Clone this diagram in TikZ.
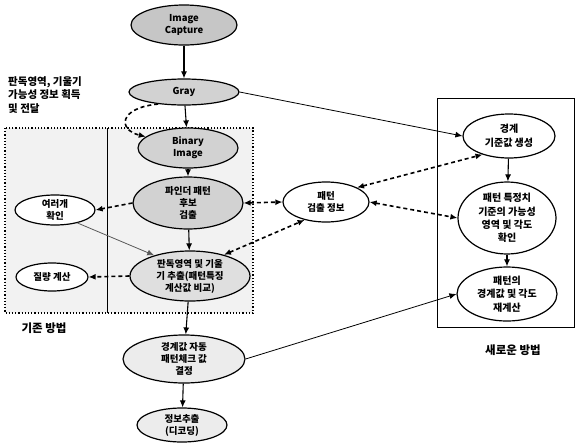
\documentclass[tikz,border=0pt]{standalone}
\usepackage{fontspec}
\newfontfamily\kr{Noto Sans CJK KR}
\usetikzlibrary{arrows.meta,shapes.geometric}
\begin{document}
\begin{tikzpicture}[x=1pt,y=-1pt,
  el/.style={ellipse,draw,line width=1.2pt,inner sep=0pt,align=center,
    font=\kr\bfseries\fontsize{9.5}{12}\selectfont},
  rel/.style={ellipse,draw,line width=1.2pt,inner sep=0pt,align=center,fill=white,
    font=\kr\bfseries\fontsize{10}{13.5}\selectfont},
  lab/.style={align=left,font=\kr\bfseries\fontsize{10.5}{13.5}\selectfont,inner sep=0pt},
  sol/.style={line width=1.1pt,-{Latex[length=7pt,width=6pt]}},
  thin/.style={line width=0.8pt,-{Latex[length=7pt,width=6pt]}},
  dsh/.style={line width=1.6pt,dash pattern=on 4pt off 3pt,{Latex[length=7pt,width=6pt]}-{Latex[length=7pt,width=6pt]}},
  dsh1/.style={line width=1.6pt,dash pattern=on 4pt off 3pt,-{Latex[length=7pt,width=6pt]}}
]
\useasboundingbox (0,0) rectangle (579,445);
% boxes
\draw[line width=1.2pt,dotted,fill=gray!10] (5,128) rectangle (253,313);
\draw[line width=0.6pt] (107,128) -- (107,313);
\draw[line width=1pt] (437,98) rectangle (574,327);
% left column ellipses
\node[el,fill=gray!45,minimum width=106pt,minimum height=40pt] (cap) at (184,25) {Image\\Capture};
\node[el,fill=gray!35,minimum width=110pt,minimum height=26pt] (gray) at (184,92) {Gray};
\node[el,fill=gray!35,minimum width=100pt,minimum height=40pt] (bin) at (188,148) {Binary\\Image};
\node[el,fill=gray!35,minimum width=110pt,minimum height=52pt] (pat) at (188,203) {파인더 패턴\\후보\\검출};
\node[el,fill=gray!25,minimum width=120pt,minimum height=50pt] (big) at (190,276) {판독영역 및 기울\\기 추출(패턴특징\\계산값 비교)};
\node[el,fill=white,minimum width=80pt,minimum height=30pt] (l1) at (55,210) {여러개\\확인};
\node[el,fill=white,minimum width=72pt,minimum height=28pt] (l2) at (52,277) {질량 계산};
\node[el,fill=white,minimum width=86pt,minimum height=40pt] (mid) at (326,202) {패턴\\검출 정보};
\node[el,fill=gray!15,minimum width=122pt,minimum height=48pt] (b1) at (184,359) {경계값 자동\\패턴체크 값\\결정};
\node[el,fill=gray!15,minimum width=90pt,minimum height=34pt] (b2) at (182,425) {정보추출\\(디코딩)};
% right column
\node[rel,minimum width=92pt,minimum height=44pt] (r1) at (509,136) {경계\\기준값 생성};
\node[rel,minimum width=98pt,minimum height=72pt] (r2) at (507,218) {패턴 특정치\\기준의 가능성\\영역 및 각도\\확인};
\node[rel,minimum width=100pt,minimum height=54pt] (r3) at (507,294) {패턴의\\경계값 및 각도\\재계산};
% labels
\node[lab,anchor=north west] (info) at (8,76) {판독영역, 기울기\\가능성 정보 획득\\및 전달};
\node[lab,font=\kr\bfseries\fontsize{11.5}{13.5}\selectfont] (old) at (44,328) {기존 방법};
\node[lab,font=\kr\bfseries\fontsize{11.5}{13.5}\selectfont] (new) at (513,350) {새로운 방법};
% solid arrows
\draw[sol] (cap) -- (gray);
\draw[sol] (gray) -- (bin);
\draw[sol] (bin) -- (pat);
\draw[sol] (pat) -- (big);
\draw[sol] (big) -- (b1);
\draw[sol] (b1) -- (b2);
\draw[sol] (r1) -- (r2);
\draw[sol] (r2) -- (r3);
\draw[thin] (gray.east) -- (r1.west);
\draw[thin] (b1.east) -- (r3.west);
\draw[thin,gray!70!black] (l1.330) -- (big.150);
% dashed arrows
\draw[dsh1] (gray.205) .. controls (118,108) and (118,130) .. (bin.165);
\draw[dsh1] (pat.west) -- (l1.east);
\draw[dsh1] (big.west) -- (l2.east);
\draw[dsh] (pat.east) -- (mid.west);
\draw[dsh] (big.32) -- (mid.220);
\draw[dsh] (mid.east) -- (r2.west);
\draw[dsh] (mid.25) -- (r1.215);
\end{tikzpicture}
\end{document}
